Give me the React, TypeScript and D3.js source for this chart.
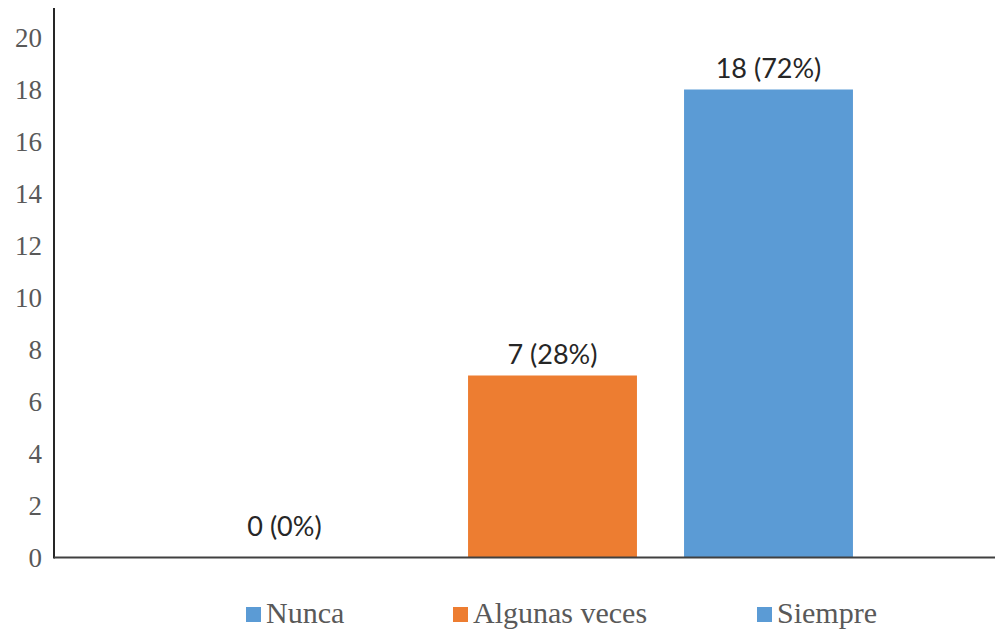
import React from "react";
import * as d3 from "d3";

const categories = ["Nunca", "Algunas veces", "Siempre"];
const values = [0, 7, 18];
const labels = ["0 (0%)", "7 (28%)", "18 (72%)"];
const colors = ["#5B9BD5", "#ED7D31", "#5B9BD5"];
const yTicks = [0, 2, 4, 6, 8, 10, 12, 14, 16, 18, 20];

export default function App() {
  const W = 995, H = 632;
  const axisX = 54, axisY = 557.5, topY = 8;
  const y = d3.scaleLinear().domain([0, 20]).range([axisY, 37.5]);
  const x = d3.scaleBand<string>().domain(categories).range([228.5, 876.5]).paddingInner(0.218).paddingOuter(0.109);
  const legendX = [246, 453, 757];
  return (
    <svg width={W} height={H} style={{ position: "absolute", left: 0, top: 0, background: "#fff" }}>
      {categories.map((c, i) => {
        const x0 = x(c)!;
        const h = axisY - y(values[i]);
        const cx = x0 + x.bandwidth() / 2 + (values[i] === 0 ? -52 : 0);
        return (
          <g key={c}>
            {values[i] > 0 && (
              <rect x={x0} y={y(values[i])} width={x.bandwidth()} height={h} fill={colors[i]} />
            )}
            <text x={cx} y={y(values[i]) - 12 - (values[i] === 0 ? 10 : 0)} textAnchor="middle"
              fontFamily="Lato, 'Open Sans', sans-serif" fontSize={27} fill="#262626">{labels[i]}</text>
          </g>
        );
      })}
      {yTicks.map((t) => (
        <text key={t} x={42} y={y(t) + 9} textAnchor="end" fontFamily="'Liberation Serif', serif" fontSize={27} fill="#595959">{t}</text>
      ))}
      <line x1={axisX} x2={axisX} y1={topY} y2={axisY + 1} stroke="#262626" strokeWidth={2} />
      <line x1={axisX} x2={W} y1={axisY} y2={axisY} stroke="#404040" strokeWidth={2} />
      {categories.map((c, i) => (
        <g key={"lg" + c}>
          <rect x={legendX[i]} y={607} width={15} height={15} fill={colors[i]} />
          <text x={legendX[i] + 20} y={623} fontFamily="'Liberation Serif', serif" fontSize={30} fill="#595959">{c}</text>
        </g>
      ))}
    </svg>
  );
}
